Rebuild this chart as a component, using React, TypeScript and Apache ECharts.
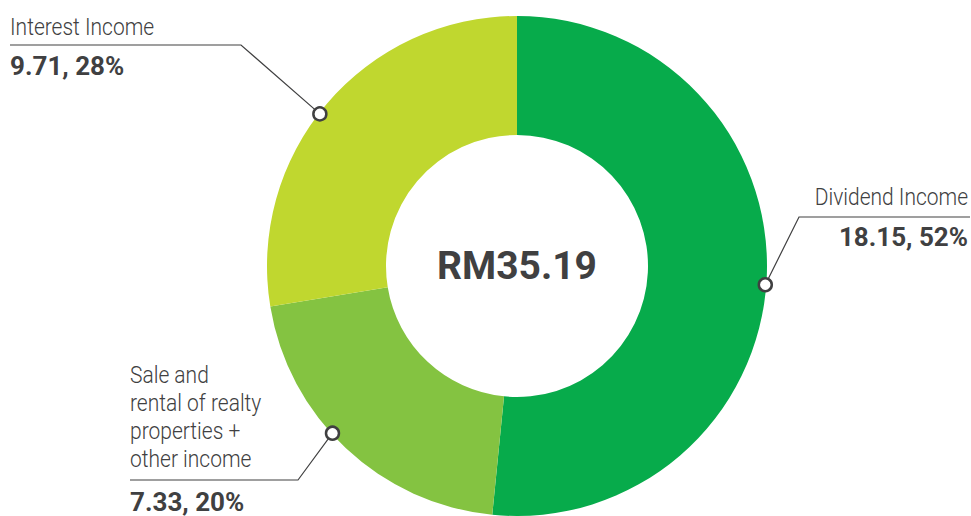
import React, { useEffect, useRef } from "react";
import * as echarts from "echarts";

const categories = ["Dividend Income", "Sale and rental of realty properties + other income", "Interest Income"];
const values = [18.15, 7.33, 9.71];
const valueLabels = ["18.15, 52%", "7.33, 20%", "9.71, 28%"];
const colors = ["#07ab4b", "#84c341", "#c0d72f"];
const totalLabel = "RM35.19";

// layout: where along each slice (0..1) the leader line meets the ring
const anchorFractions = [0.508, 0.562, 0.473];

const W = 971;
const H = 516;
const CX = 517;
const CY = 266;
const R_IN = 131;
const R_OUT = 250;
const INK = "#404041";
const FONT = "Roboto, 'Liberation Sans', sans-serif";

function anchorPoints() {
  const total = values.reduce((a, b) => a + b, 0);
  let acc = 0;
  return values.map((v, i) => {
    const a = ((acc + v * anchorFractions[i]) / total) * 2 * Math.PI;
    acc += v;
    return [CX + (R_OUT - 1) * Math.sin(a), CY - (R_OUT - 1) * Math.cos(a)];
  });
}

export default function App() {
  const ref = useRef<HTMLDivElement>(null);
  useEffect(() => {
    if (!ref.current) return;
    const chart = echarts.init(ref.current, null, { renderer: "svg" });
    const pts = anchorPoints();
    const [pDiv, pSale, pInt] = pts;

    const nameStyle = { fill: INK, font: `300 21px ${FONT}` };
    const valStyle = { fill: INK, font: `bold 26px ${FONT}` };
    const nameText = (x: number, y: number, text: string, align: string) => ({
      type: "text",
      x,
      y,
      scaleY: 1.15,
      style: { ...nameStyle, text, align, verticalAlign: "middle" },
    });
    const valText = (x: number, y: number, text: string, align: string) => ({
      type: "text",
      x,
      y,
      style: { ...valStyle, text, align, verticalAlign: "middle" },
    });
    const leader = (points: number[][]) => ({
      type: "polyline",
      shape: { points },
      style: { stroke: INK, lineWidth: 1.2, fill: null },
    });

    const graphic: any[] = [
      // Interest Income
      nameText(10, 27, categories[2], "left"),
      valText(10, 66, valueLabels[2], "left"),
      leader([[10, 45], [241, 45], pInt]),
      // Dividend Income
      nameText(968, 197, categories[0], "right"),
      valText(968, 237, valueLabels[0], "right"),
      leader([[970, 217], [799, 217], pDiv]),
      // Sale and rental ...
      nameText(130, 375, "Sale and", "left"),
      nameText(130, 403, "rental of realty", "left"),
      nameText(130, 431, "properties +", "left"),
      nameText(130, 459, "other income", "left"),
      valText(130, 502, valueLabels[1], "left"),
      leader([[130, 480], [298, 480], pSale]),
      // center total
      {
        type: "text",
        x: CX,
        y: CY,
        style: { text: totalLabel, fill: INK, font: `bold 39px ${FONT}`, align: "center", verticalAlign: "middle" },
      },
    ];
    pts.forEach((p) => {
      graphic.push({
        type: "circle",
        shape: { cx: p[0], cy: p[1], r: 6.5 },
        style: { fill: "#fff", stroke: INK, lineWidth: 2.5 },
        z: 10,
      });
    });

    chart.setOption({
      animation: false,
      backgroundColor: "#ffffff",
      series: [
        {
          type: "pie",
          center: [CX, CY],
          radius: [R_IN, R_OUT],
          startAngle: 90,
          clockwise: true,
          label: { show: false },
          labelLine: { show: false },
          emphasis: { disabled: true },
          data: categories.map((c, i) => ({ name: c, value: values[i], itemStyle: { color: colors[i] } })),
        },
      ],
      graphic,
    });
    return () => chart.dispose();
  }, []);
  return <div ref={ref} style={{ position: "fixed", left: 0, top: 0, width: W, height: H }} />;
}
